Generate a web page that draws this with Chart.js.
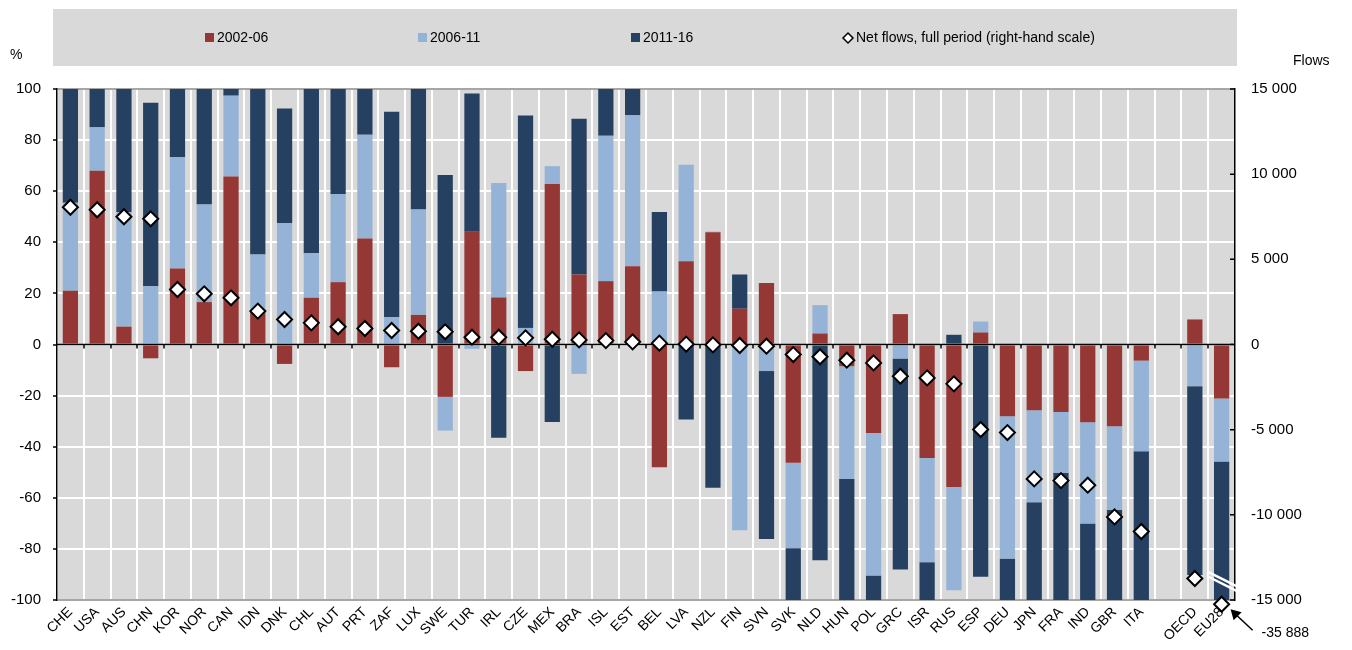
<!DOCTYPE html>
<html>
<head>
<meta charset="utf-8">
<script src="https://cdn.jsdelivr.net/npm/chart.js@4.4.1/dist/chart.umd.min.js"></script>
<style>
    html, body { margin: 0; padding: 0; background: #fff; }
    #wrap { width: 1352px; height: 650px; }
</style>
</head>
<body>
<div id="wrap"><canvas id="grafico-fluxos"></canvas></div>
<script>
// categories (blank slot separates the aggregates)
const countries = ['CHE', 'USA', 'AUS', 'CHN', 'KOR', 'NOR', 'CAN', 'IDN', 'DNK', 'CHL', 'AUT', 'PRT', 'ZAF', 'LUX',
    'SWE', 'TUR', 'IRL', 'CZE', 'MEX', 'BRA', 'ISL', 'EST', 'BEL', 'LVA', 'NZL', 'FIN', 'SVN', 'SVK', 'NLD', 'HUN',
    'POL', 'GRC', 'ISR', 'RUS', 'ESP', 'DEU', 'JPN', 'FRA', 'IND', 'GBR', 'ITA', '', 'OECD', 'EU28'];

// share of each period, %
const period0206 = [21, 68, 7, -5.4, 29.7, 16.6, 65.8, 13, -7.6, 18.3, 24.4, 41.5, -8.9, 11.6,
    -20.5, 44.1, 18.4, -10.4, 62.8, 27.4, 24.8, 30.6, -48, 32.6, 43.9, 14, 24.1, -46.3, 4.3, -8.5,
    -34.6, 11.9, -44.4, -55.8, 4.7, -28.1, -25.7, -26.4, -30.4, -32, -6.3, null, 9.8, -21.1];
const period0611 = [34.5, 17, 44.8, 22.8, 43.6, 38.2, 31.6, 22.2, 47.6, 17.4, 34.5, 40.6, 10.7, 41.2,
    -13.2, -1.7, 44.8, 6.5, 7, -11.5, 56.9, 59.1, 20.7, 37.8, 0.3, -72.7, -10.4, -33.4, 11.1, -44.1,
    -55.8, -5.5, -40.8, -40.4, 4.3, -55.7, -36, -23.8, -39.7, -32.8, -35.5, null, -16.3, -24.7];
const period1116 = [44.5, 15, 48.2, 71.8, 26.7, 45.2, 2.6, 64.8, 44.8, 64.3, 41.1, 17.9, 80.4, 47.2,
    66.3, 54.1, -36.5, 83.1, -30.3, 61, 18.3, 10.3, 31.2, -29.4, -56.1, 13.4, -65.7, -20.3, -84.4, -47.4,
    -9.6, -82.6, -14.8, 3.8, -90.9, -16.2, -38.3, -49.8, -29.9, -35.2, -58.2, null, -73.9, -54.2];

// net flows over the full period (right-hand scale)
const netFlows = [8060, 7910, 7500, 7380, 3230, 2975, 2740, 1960, 1470, 1270, 1040, 940, 820, 780,
    745, 430, 430, 390, 310, 270, 230, 155, 80, 20, -20, -60, -100, -590, -720, -920,
    -1080, -1860, -1960, -2310, -4990, -5170, -7890, -7990, -8260, -10120, -10980, null, -13740, -35888];

const leftTicks = [-100, -80, -60, -40, -20, 0, 20, 40, 60, 80, 100];
const rightTicks = [-15000, -10000, -5000, 0, 5000, 10000, 15000];

// values below the axis break are pinned just under the bottom of the scale
const breakFloor = -15250;
const netFlowsShown = netFlows.map(v => v === null ? null : Math.max(v, breakFloor));

function formatThousands(v) {
    const s = String(Math.abs(v)).replace(/\B(?=(\d{3})+(?!\d))/g, ' ');
    return (v < 0 ? '-' : '') + s;
}

Chart.defaults.font.family = '"Liberation Sans", Arial, sans-serif';
Chart.defaults.font.size = 14;
Chart.defaults.color = '#000';

const fundoGrafico = {
    id: 'fundoGrafico',
    beforeDraw(chart) {
        const ctx = chart.ctx;
        const a = chart.chartArea;
        ctx.save();
        ctx.fillStyle = '#d9d9d9';
        ctx.fillRect(a.left, a.top, a.right - a.left, a.bottom - a.top);

        // legend box
        ctx.fillRect(53, 9, 1184, 57);
        ctx.font = '14px "Liberation Sans", Arial, sans-serif';
        ctx.textBaseline = 'middle';
        ctx.fillStyle = '#000';
        const ds = chart.data.datasets;
        const legendX = [205, 418, 631];
        for (let i = 0; i < 3; i++) {
            ctx.fillStyle = ds[i].backgroundColor;
            ctx.fillRect(legendX[i], 33, 9, 9);
            ctx.fillStyle = '#000';
            ctx.fillText(ds[i].label, legendX[i] + 12, 38);
        }
        // diamond item
        const dx = 848;
        ctx.beginPath();
        ctx.moveTo(dx, 33); ctx.lineTo(dx + 5, 38); ctx.lineTo(dx, 43); ctx.lineTo(dx - 5, 38);
        ctx.closePath();
        ctx.fillStyle = '#fff';
        ctx.fill();
        ctx.strokeStyle = '#000';
        ctx.lineWidth = 1.5;
        ctx.stroke();
        ctx.fillStyle = '#000';
        ctx.fillText(ds[3].label, dx + 8, 38);

        // axis titles
        ctx.fillText('%', 10, 55);
        ctx.fillText('Flows', 1293, 61);
        ctx.restore();
    },
    beforeDatasetDraw(chart, args) {
        if (args.index !== 3) return;
        const ctx = chart.ctx;
        const a = chart.chartArea;
        const y0 = chart.scales.y.getPixelForValue(0);
        const n = chart.scales.x.ticks.length;
        const step = (a.right - a.left) / n;
        ctx.save();
        ctx.strokeStyle = '#000';
        ctx.lineWidth = 1.5;
        ctx.beginPath();
        ctx.moveTo(a.left, y0);
        ctx.lineTo(a.right, y0);
        for (let i = 1; i < n; i++) {
            const xx = Math.round(a.left + i * step);
            ctx.moveTo(xx, y0);
            ctx.lineTo(xx, y0 + 4);
        }
        ctx.stroke();
        ctx.restore();
    },
    afterDraw(chart) {
        const ctx = chart.ctx;
        const a = chart.chartArea;
        const y2 = chart.scales.y2;
        ctx.save();
        // inward ticks on the right-hand axis
        ctx.strokeStyle = '#000';
        ctx.lineWidth = 1.5;
        ctx.beginPath();
        y2.ticks.forEach(t => {
            const yy = y2.getPixelForValue(t.value);
            ctx.moveTo(a.right - 5, yy);
            ctx.lineTo(a.right, yy);
        });
        ctx.stroke();

        // axis break marks
        ctx.strokeStyle = '#fff';
        ctx.lineWidth = 2.5;
        ctx.beginPath();
        ctx.moveTo(a.right - 27, y2.getPixelForValue(-13350));
        ctx.lineTo(a.right + 2, y2.getPixelForValue(-14200));
        ctx.moveTo(a.right - 27, y2.getPixelForValue(-13620));
        ctx.lineTo(a.right + 2, y2.getPixelForValue(-14480));
        ctx.stroke();

        // arrow pointing at the clipped EU28 value
        const last = netFlows.length - 1;
        const pt = chart.getDatasetMeta(3).data[last];
        const tipX = pt.x + 9, tipY = pt.y + 5;
        ctx.strokeStyle = '#000';
        ctx.fillStyle = '#000';
        ctx.lineWidth = 1.5;
        ctx.beginPath();
        ctx.moveTo(tipX + 22, tipY + 21);
        ctx.lineTo(tipX + 6, tipY + 6);
        ctx.stroke();
        ctx.beginPath();
        ctx.moveTo(tipX, tipY);
        ctx.lineTo(tipX + 11, tipY + 3);
        ctx.lineTo(tipX + 3, tipY + 11);
        ctx.closePath();
        ctx.fill();
        ctx.font = '14px "Liberation Sans", Arial, sans-serif';
        ctx.textBaseline = 'middle';
        ctx.fillText(formatThousands(netFlows[last]), tipX + 31, tipY + 24);
        ctx.restore();
    }
};

const ctxFluxos = document.getElementById('grafico-fluxos');

var graficoFluxos = new Chart(ctxFluxos, {
    type: 'bar',
    data: {
        labels: countries,
        datasets: [
            {
                label: '2002-06',
                data: period0206,
                backgroundColor: '#953735',
                stack: 's',
                order: 1
            },
            {
                label: '2006-11',
                data: period0611,
                backgroundColor: '#95b3d7',
                stack: 's',
                order: 1
            },
            {
                label: '2011-16',
                data: period1116,
                backgroundColor: '#254061',
                stack: 's',
                order: 1
            },
            {
                type: 'line',
                label: 'Net flows, full period (right-hand scale)',
                data: netFlowsShown,
                yAxisID: 'y2',
                showLine: false,
                pointStyle: 'rectRot',
                pointRadius: 7.5,
                pointHoverRadius: 7.5,
                pointBackgroundColor: '#fff',
                pointBorderColor: '#000',
                pointBorderWidth: 2,
                clip: false,
                order: 0
            }
        ]
    },
    options: {
        responsive: true,
        maintainAspectRatio: false,
        animation: false,
        datasets: {
            bar: {
                barPercentage: 0.57,
                categoryPercentage: 1,
                borderWidth: 0
            }
        },
        layout: {
            padding: { top: 89, left: 0, right: 0, bottom: 0 }
        },
        scales: {
            x: {
                stacked: true,
                afterFit: function (scale) { scale.height = 50; },
                grid: {
                    offset: true,
                    color: '#ffffff',
                    lineWidth: 2,
                    drawTicks: false
                },
                border: { display: false },
                ticks: {
                    autoSkip: false,
                    maxRotation: 45,
                    minRotation: 45,
                    padding: 4,
                    font: { size: 14 }
                }
            },
            y: {
                stacked: true,
                min: -100,
                max: 100,
                afterFit: function (scale) { scale.width = 57; },
                afterBuildTicks: function (scale) {
                    scale.ticks = leftTicks.map(v => ({ value: v }));
                },
                grid: {
                    color: function (c) {
                        if (c.tick.value === 100 || c.tick.value === -100) return '#a6a6a6';
                        return '#ffffff';
                    },
                    lineWidth: 2,
                    drawTicks: true,
                    tickLength: 4,
                    tickColor: '#000',
                    tickWidth: 1.5
                },
                border: { color: '#000', width: 1.5 },
                ticks: {
                    padding: 12,
                    font: { size: 15 }
                }
            },
            y2: {
                position: 'right',
                min: -15000,
                max: 15000,
                afterFit: function (scale) { scale.width = 117; },
                afterBuildTicks: function (scale) {
                    scale.ticks = rightTicks.map(v => ({ value: v }));
                },
                grid: {
                    drawOnChartArea: false,
                    drawTicks: false
                },
                border: { color: '#000', width: 1.5 },
                ticks: {
                    padding: 16,
                    font: { size: 15 },
                    callback: function (value) { return formatThousands(value); }
                }
            }
        },
        plugins: {
            legend: { display: false },
            tooltip: { enabled: false }
        }
    },
    plugins: [fundoGrafico]
});
</script>
</body>
</html>
